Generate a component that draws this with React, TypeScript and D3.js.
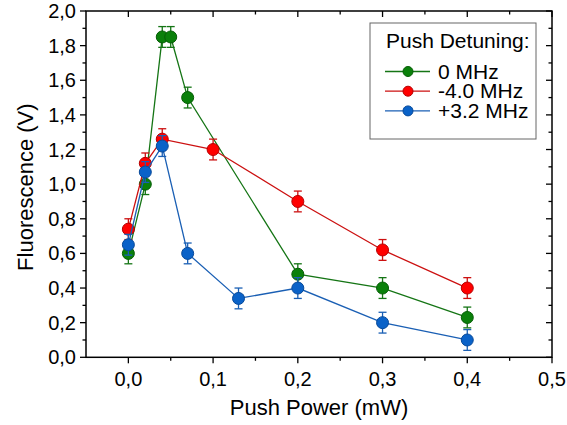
import React from "react";
import * as d3 from "d3";

// Push power (mW) and fluorescence (V) for each push-beam detuning
const powerZero = [0, 0.02, 0.04, 0.05, 0.07, 0.2, 0.3, 0.4];
const fluorZero = [0.6, 1.0, 1.85, 1.85, 1.5, 0.48, 0.4, 0.23];

const powerMinus = [0, 0.02, 0.04, 0.1, 0.2, 0.3, 0.4];
const fluorMinus = [0.74, 1.12, 1.26, 1.2, 0.9, 0.62, 0.4];

const powerPlus = [0, 0.02, 0.04, 0.07, 0.13, 0.2, 0.3, 0.4];
const fluorPlus = [0.65, 1.07, 1.22, 0.6, 0.34, 0.4, 0.2, 0.1];

const errorBar = 0.06;

const seriesLabels = ["0 MHz", "-4.0 MHz", "+3.2 MHz"];
const legendTitle = "Push Detuning:";

const xTicks = [0, 0.1, 0.2, 0.3, 0.4, 0.5];
const xTickLabels = ["0,0", "0,1", "0,2", "0,3", "0,4", "0,5"];
const xMinorTicks = [0.05, 0.15, 0.25, 0.35, 0.45];
const yTicks = [0, 0.2, 0.4, 0.6, 0.8, 1.0, 1.2, 1.4, 1.6, 1.8, 2.0];
const yTickLabels = ["0,0", "0,2", "0,4", "0,6", "0,8", "1,0", "1,2", "1,4", "1,6", "1,8", "2,0"];
const yMinorTicks = [0.1, 0.3, 0.5, 0.7, 0.9, 1.1, 1.3, 1.5, 1.7, 1.9];

const W = 567;
const H = 425;
const left = 86;
const right = 552;
const top = 11;
const bottom = 357.3;

const FONT = "Liberation Sans, Arial, sans-serif";

const styles = [
  { line: "#157515", fill: "#0a800a", stroke: "#065d06" },
  { line: "#cc1010", fill: "#ff0000", stroke: "#b50000" },
  { line: "#1a5fb4", fill: "#0a62c8", stroke: "#084a9a" },
];

export default function App() {
  const x = d3.scaleLinear().domain([-0.05, 0.5]).range([left, right]);
  const y = d3.scaleLinear().domain([0, 2]).range([bottom, top]);

  const series = [
    { xs: powerZero, ys: fluorZero },
    { xs: powerMinus, ys: fluorMinus },
    { xs: powerPlus, ys: fluorPlus },
  ];

  const line = d3
    .line<[number, number]>()
    .x((d) => x(d[0]))
    .y((d) => y(d[1]));

  const major = 6;
  const minor = 3.5;
  const r = 6;
  const cap = 4;

  return (
    <svg
      width={W}
      height={H}
      style={{ position: "absolute", left: 0, top: 0, background: "#fff" }}
      fontFamily={FONT}
    >
      <rect x={0} y={0} width={W} height={H} fill="#fff" />

      {/* lines, error bars and markers */}
      {series.map((s, i) => {
        const pts = s.xs.map((v, k) => [v, s.ys[k]] as [number, number]);
        const st = styles[i];
        return (
          <g key={i}>
            <path d={line(pts) || ""} fill="none" stroke={st.line} strokeWidth={1.3} />
            {pts.map((p, k) => {
              const cx = x(p[0]);
              const y1 = y(p[1] + errorBar);
              const y2 = y(p[1] - errorBar);
              return (
                <g key={k} stroke={st.line} strokeWidth={1.3}>
                  <line x1={cx} x2={cx} y1={y1} y2={y2} />
                  <line x1={cx - cap} x2={cx + cap} y1={y1} y2={y1} />
                  <line x1={cx - cap} x2={cx + cap} y1={y2} y2={y2} />
                </g>
              );
            })}
            {pts.map((p, k) => (
              <circle
                key={"c" + k}
                cx={x(p[0])}
                cy={y(p[1])}
                r={r}
                fill={st.fill}
                stroke={st.stroke}
                strokeWidth={1}
              />
            ))}
          </g>
        );
      })}

      {/* frame */}
      <rect x={left} y={top} width={right - left} height={bottom - top} fill="none" stroke="#000" strokeWidth={1.5} />

      {/* bottom axis: outward ticks; top axis: inward ticks */}
      {xTicks.map((t, i) => (
        <g key={"xt" + i} stroke="#000" strokeWidth={1.3}>
          <line x1={x(t)} x2={x(t)} y1={bottom} y2={bottom + major} />
          <line x1={x(t)} x2={x(t)} y1={top} y2={top + major} />
        </g>
      ))}
      {xMinorTicks.map((t, i) => (
        <g key={"xm" + i} stroke="#000" strokeWidth={1.3}>
          <line x1={x(t)} x2={x(t)} y1={bottom} y2={bottom + minor} />
          <line x1={x(t)} x2={x(t)} y1={top} y2={top + minor} />
        </g>
      ))}
      {xTicks.map((t, i) => (
        <text key={"xl" + i} x={x(t)} y={bottom + 29} fontSize={20} textAnchor="middle" fill="#000">
          {xTickLabels[i]}
        </text>
      ))}

      {/* left axis: outward ticks; right axis: inward ticks */}
      {yTicks.map((t, i) => (
        <g key={"yt" + i} stroke="#000" strokeWidth={1.3}>
          <line x1={left - major} x2={left} y1={y(t)} y2={y(t)} />
          <line x1={right - major} x2={right} y1={y(t)} y2={y(t)} />
        </g>
      ))}
      {yMinorTicks.map((t, i) => (
        <g key={"ym" + i} stroke="#000" strokeWidth={1.3}>
          <line x1={left - minor} x2={left} y1={y(t)} y2={y(t)} />
          <line x1={right - minor} x2={right} y1={y(t)} y2={y(t)} />
        </g>
      ))}
      {yTicks.map((t, i) => (
        <text key={"yl" + i} x={left - 10} y={y(t) + 7} fontSize={20} textAnchor="end" fill="#000">
          {yTickLabels[i]}
        </text>
      ))}

      {/* axis titles */}
      <text x={(left + right) / 2} y={415} fontSize={22} textAnchor="middle" fill="#000">
        Push Power (mW)
      </text>
      <text
        transform={`translate(33, ${(top + bottom) / 2 + 3}) rotate(-90)`}
        fontSize={22}
        textAnchor="middle"
        fill="#000"
      >
        Fluorescence (V)
      </text>

      {/* legend */}
      <g>
        <rect x={370} y={23} width={166} height={116} fill="#fff" stroke="#666" strokeWidth={1} />
        <text x={386} y={48} fontSize={21} fill="#000">
          {legendTitle}
        </text>
        {seriesLabels.map((lab, i) => {
          const cy = 71.5 + i * 19.7;
          const st = styles[i];
          return (
            <g key={"lg" + i}>
              <line x1={385} x2={430} y1={cy} y2={cy} stroke={st.line} strokeWidth={1.3} />
              <circle cx={408} cy={cy} r={5} fill={st.fill} stroke={st.stroke} strokeWidth={1} />
              <text x={438} y={cy + 7} fontSize={21} fill="#000">
                {lab}
              </text>
            </g>
          );
        })}
      </g>
    </svg>
  );
}
